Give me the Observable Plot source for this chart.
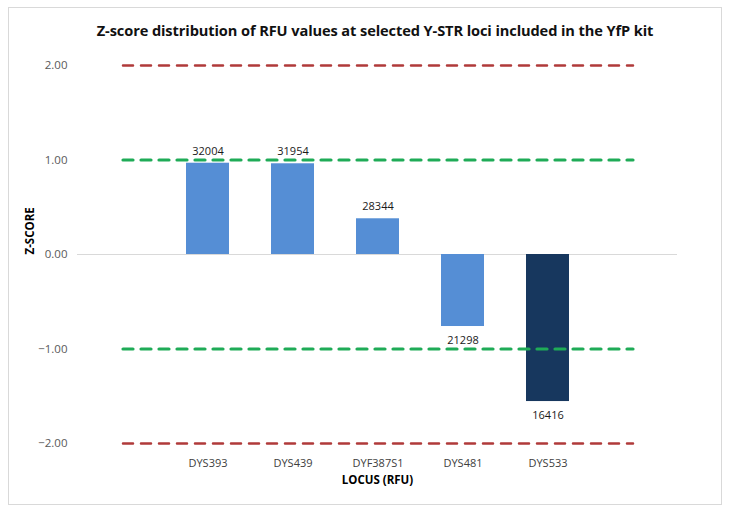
<!DOCTYPE html>
<html>
<head>
<meta charset="utf-8">
<script src="https://cdn.jsdelivr.net/npm/d3@7"></script>
<script src="https://cdn.jsdelivr.net/npm/@observablehq/plot@0.6"></script>
<style>
  html, body { margin: 0; padding: 0; background: #fff; }
  #frame { position: absolute; left: 8px; top: 7px; width: 714px; height: 498px; border: 1px solid #d9d9d9; box-sizing: border-box; }
  #wrap { position: absolute; left: 0; top: 0; width: 731px; height: 514px; }
  #title { height: 50px; width: 731px; text-align: center; font-family: "Open Sans", sans-serif; font-weight: 700; font-size: 14.6px; line-height: 20px; padding-top: 20px; padding-left: 19px; color: #111; box-sizing: border-box; letter-spacing: -0.1px; }
  #chart svg { display: block; }
</style>
</head>
<body>
<div id="frame"></div>
<div id="wrap">
  <div id="title">Z-score distribution of RFU values at selected Y-STR loci included in the YfP kit</div>
  <div id="chart"></div>
</div>
<script>
const loci = ["DYS393", "DYS439", "DYF387S1", "DYS481", "DYS533"];
const zScores = [0.966, 0.96, 0.378, -0.762, -1.556];
const rfu = [32004, 31954, 28344, 21298, 16416];
const yTicks = [-2, -1, 0, 1, 2];
const redLevels = [2, -2];
const greenLevels = [1, -1];
const highlighted = "DYS533";

const data = loci.map((l, i) => ({locus: l, z: zScores[i], rfu: rfu[i]}));
const domain = [" ", ...loci, "  "];
const lineData = (levels) => levels.flatMap(v => [{x: domain[0], y: v, g: v}, {x: domain[domain.length - 1], y: v, g: v}]);

const font = "'Open Sans', sans-serif";

const plot = Plot.plot({
  width: 731,
  height: 464,
  marginTop: 15,
  marginBottom: 71,
  marginLeft: 77,
  marginRight: 54,
  style: {fontFamily: font, fontSize: "11px", color: "#404040", background: "transparent"},
  x: {domain, paddingInner: 0.5, paddingOuter: 0.25, label: null},
  y: {domain: [-2, 2], label: null},
  marks: [
    Plot.ruleY([0], {stroke: "#d9d9d9", strokeWidth: 1}),
    Plot.barY(data, {x: "locus", y: "z", fill: d => d.locus === highlighted ? "#17375e" : "#558ed5"}),
    Plot.lineY(lineData(redLevels), {x: "x", y: "y", z: "g", stroke: "#b03a3a", strokeWidth: 2.5, strokeDasharray: "10,8"}),
    Plot.lineY(lineData(greenLevels), {x: "x", y: "y", z: "g", stroke: "#1fab57", strokeWidth: 3.2, strokeDasharray: "10,8"}),
    Plot.text(data.filter(d => d.z >= 0), {x: "locus", y: "z", text: d => String(d.rfu), dy: -12, lineAnchor: "middle", fill: "#1a1a1a", fontSize: 11}),
    Plot.text(data.filter(d => d.z < 0), {x: "locus", y: "z", text: d => String(d.rfu), dy: 14, lineAnchor: "middle", fill: "#1a1a1a", fontSize: 11}),
    Plot.axisY({ticks: yTicks, tickFormat: d3.format(".2f"), tickSize: 0, tickPadding: 10, label: null, fill: "#595959", fontSize: 11.5}),
    Plot.axisX({tickSize: 0, tickPadding: 16, label: null, fill: "#404040", fontSize: 11, tickFormat: d => d.trim()}),
    Plot.text(["Z-SCORE"], {frameAnchor: "left", dx: -47, rotate: -90, fontWeight: "bold", fontSize: 11.5, fill: "#000"}),
    Plot.text(["LOCUS (RFU)"], {frameAnchor: "bottom", dy: 37, lineAnchor: "middle", fontWeight: "bold", fontSize: 11.5, fill: "#000"})
  ]
});
document.getElementById("chart").appendChild(plot);
</script>
</body>
</html>
